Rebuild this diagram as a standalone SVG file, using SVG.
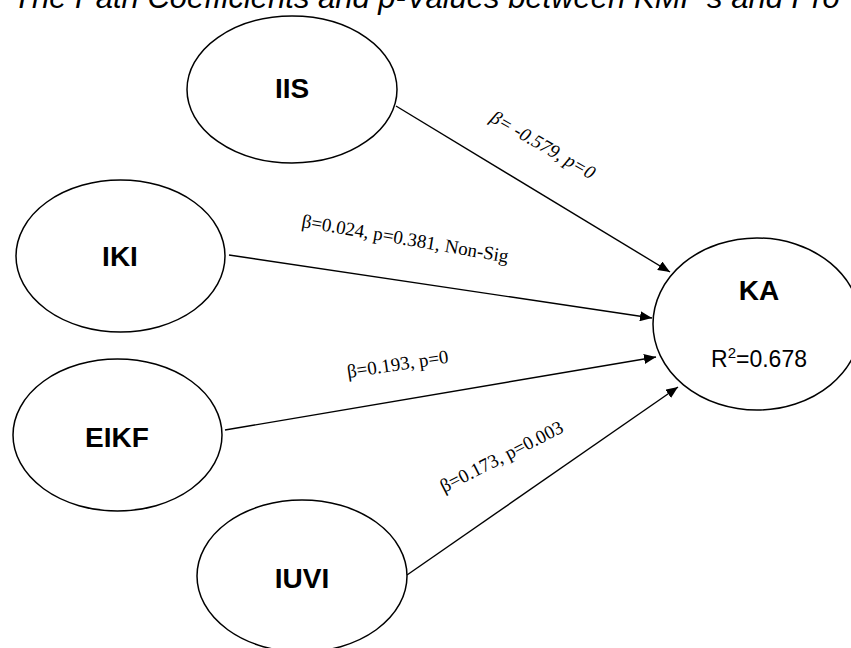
<svg xmlns="http://www.w3.org/2000/svg" width="851" height="648" viewBox="0 0 851 648">
  <style>
    .node { fill: #ffffff; stroke: #000000; stroke-width: 1.5; }
    .name { font-family: "Liberation Sans", Arial, sans-serif; font-weight: bold; font-size: 28px; text-anchor: middle; fill: #000; }
    .edge { stroke: #000000; stroke-width: 1.4; fill: none; marker-end: url(#arrow); }
    .coef { font-family: "Liberation Serif", "Times New Roman", serif; font-size: 19px; fill: #000; }
    .title { font-family: "Liberation Sans", Arial, sans-serif; font-style: italic; font-size: 31px; fill: #000; }
  </style>
  <defs>
    <marker id="arrow" viewBox="0 0 12 10" refX="12" refY="5" markerWidth="12" markerHeight="10" markerUnits="userSpaceOnUse" orient="auto">
      <path d="M0,0 L12,5 L0,10 Z" fill="#000"/>
    </marker>
  </defs>
  <rect width="851" height="648" fill="#ffffff"/>

  <text class="title" x="13" y="8">The Path Coefficients and p-Values between KMP's and Pro</text>

  <g id="connectors">
    <line class="edge" x1="396" y1="106" x2="670" y2="272"/>
    <line class="edge" x1="229" y1="255" x2="652" y2="318"/>
    <line class="edge" x1="225" y1="430" x2="656" y2="357"/>
    <line class="edge" x1="407" y1="575" x2="678" y2="387"/>
    <text class="coef" font-style="italic" transform="translate(489,121) rotate(30)">β= -0.579, p=0</text>
    <text class="coef" transform="translate(301,227) rotate(9.8)">β=0.024, p=0.381, Non-Sig</text>
    <text class="coef" transform="translate(348,378) rotate(-8.6)">β=0.193, p=0</text>
    <text class="coef" transform="translate(444,493) rotate(-27)">β=0.173, p=0.003</text>
  </g>

  <g id="node-IIS">
    <ellipse class="node" cx="292" cy="89.5" rx="105" ry="73.5"/>
    <text class="name" x="292" y="98">IIS</text>
  </g>
  <g id="node-IKI">
    <ellipse class="node" cx="120.5" cy="256" rx="104.5" ry="76"/>
    <text class="name" x="120" y="266">IKI</text>
  </g>
  <g id="node-EIKF">
    <ellipse class="node" cx="117.5" cy="435" rx="104.5" ry="76"/>
    <text class="name" x="117" y="447">EIKF</text>
  </g>
  <g id="node-IUVI">
    <ellipse class="node" cx="302" cy="576" rx="105" ry="76"/>
    <text class="name" x="302" y="588">IUVI</text>
  </g>
  <g id="node-KA">
    <ellipse class="node" cx="757" cy="324" rx="104" ry="86"/>
    <text class="name" x="759" y="300" font-size="26">KA</text>
    <text x="759" y="367" font-family="Liberation Sans, Arial, sans-serif" font-size="23" text-anchor="middle">R<tspan font-size="15" dy="-9">2</tspan><tspan dy="9">=0.678</tspan></text>
  </g>
</svg>
